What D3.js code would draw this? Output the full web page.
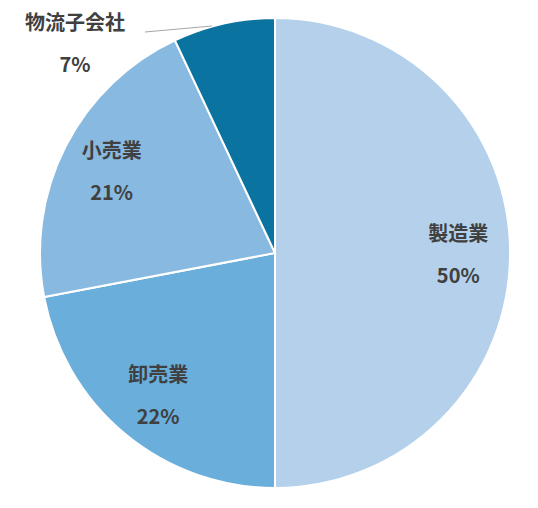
<!DOCTYPE html>
<html><head><meta charset="utf-8">
<script src="https://cdn.jsdelivr.net/npm/d3@7"></script>
<style>body{margin:0;background:#fff}</style></head>
<body><svg id="c" width="538" height="508"></svg>
<script>
const categories = ["製造業","卸売業","小売業","物流子会社"];
const values = [50,22,21,7];
const colors = ["#b4d0ea","#6aaedb","#88b9e0","#0b73a0"];
const svg = d3.select("#c");
const cx=275, cy=253, R=235;
const g = svg.append("g").attr("transform",`translate(${cx},${cy})`);
const pie = d3.pie().sort(null).value(d=>d);
const arcs = pie(values);
const arc = d3.arc().innerRadius(0).outerRadius(R);
g.selectAll("path").data(arcs).join("path").attr("d",arc)
 .attr("fill",(d,i)=>colors[i]).attr("stroke","#fff").attr("stroke-width",2);
const lab = d3.arc().innerRadius(R*0.78).outerRadius(R*0.78);
const font = "'Noto Sans CJK JP', sans-serif";
arcs.forEach((d,i)=>{
  let x,y;
  if(i===3){ x=75-cx; y=42-cy; }
  else { [x,y]=lab.centroid(d); }
  const t = g.append("text").attr("text-anchor","middle").attr("font-family",font)
   .attr("font-weight","bold").attr("font-size",20).attr("fill","#404040");
  t.append("tspan").attr("x",x).attr("y",y-12).text(categories[i]);
  t.append("tspan").attr("x",x).attr("y",y+30).text(values[i]+"%");
});
// leader line for small slice
g.append("path").attr("d",`M${145-cx},${32-cy}L${212-cx},${26-cy}`).attr("stroke","#a6a6a6").attr("fill","none");
</script></body></html>
